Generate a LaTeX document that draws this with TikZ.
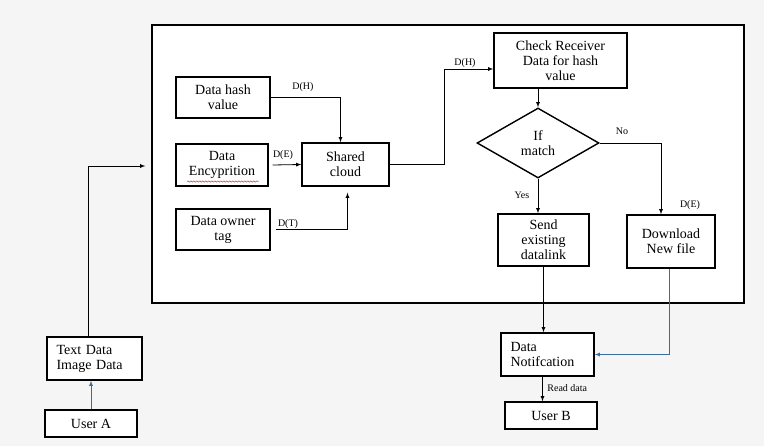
\documentclass[tikz,border=0pt]{standalone}
\usepackage{fontspec}
\setmainfont{Liberation Serif}
\usepackage{xcolor}
\usetikzlibrary{arrows,shapes.geometric,decorations.pathmorphing,positioning}

\definecolor{linkblue}{HTML}{3A6E9A}

\begin{document}
\begin{tikzpicture}[-,
    >=latex,
    x=1pt, y=-1pt,
    line width=0.8pt,
    font=\fontsize{14}{15}\selectfont]
  \tikzstyle{box}=[draw, line width=1.4pt, align=center, fill=white, inner sep=2pt]
  \tikzstyle{lbl}=[font=\fontsize{10}{11}\selectfont, inner sep=1pt]

  \fill[black!4] (0,0) rectangle (764,446);
  \useasboundingbox (0,0) rectangle (764,446);

  \node (frame) [draw, line width=1.4pt, fill=white, minimum width=592pt, minimum height=278pt] at (448,164) {};

  \node (hash)  [box, minimum width=94pt, minimum height=41pt] at (223,97.5)  {Data hash\\value};
  \node (enc)   [box, minimum width=92pt, minimum height=42pt] at (222,165)   {Data\\Encyprition};
  \node (owner) [box, minimum width=94pt, minimum height=41pt] at (223,229.5) {Data owner\\tag};
  \node (cloud) [box, minimum width=87pt, minimum height=43pt] at (345.5,164.5) {Shared\\cloud};
  \node (check) [box, minimum width=133pt, minimum height=55pt] at (560.5,60.5) {Check Receiver\\Data for hash\\value};
  \node (match) [draw, diamond, line width=1.4pt, fill=white, aspect=1.74, inner sep=0pt,
                 minimum width=122pt, minimum height=70pt, align=center] at (538,143) {If\\match};
  \node (send)  [box, minimum width=91pt, minimum height=52pt] at (543.5,240) {Send\\existing\\datalink};
  \node (down)  [box, minimum width=88pt, minimum height=53pt] at (671,241.5) {Download\\New file};
  \node (notif) [box, minimum width=93pt, minimum height=43pt, align=left, text width=74pt] at (547.5,354.5) {Data\\Notifcation};
  \node (userb) [box, minimum width=92pt, minimum height=27pt] at (551,415.5) {User B};
  \node (txt)   [box, minimum width=95pt, minimum height=43pt, align=left, text width=76pt] at (94.5,358.5) {Text Data\\Image Data};
  \node (usera) [box, minimum width=92pt, minimum height=27pt] at (91,423.5) {User A};

  % spell-check underline
  \draw[red!80!black, line width=0.4pt, decorate, decoration={snake, amplitude=0.7pt, segment length=3pt}]
    (187,181.5) -- (259,181.5);

  % inputs to the cloud
  \draw[->] (hash.east) -| ([xshift=-5pt]cloud.north);
  \draw[->] ([xshift=4pt]enc.east) -- (cloud.west);
  \draw[->] ([xshift=5pt]owner.east) -| ([xshift=2pt,yshift=-6pt]cloud.south);
  \node [lbl] at (303,87)  {D(H)};
  \node [lbl] at (283,155) {D(E)};
  \node [lbl] at (288,224) {D(T)};

  % cloud to receiver side
  \draw[->] (cloud.east) -- ++(55,0) |- ([yshift=-8.5pt]check.west);
  \node [lbl] at (465,63) {D(H)};
  \draw[->] (match.north |- check.south) -- (match.north);
  \draw[->] (match.south) -- (match.south |- send.north);
  \draw[->] (match.east) -| ([xshift=-10pt]down.north);
  \node [lbl] at (522,195) {Yes};
  \node [lbl] at (622,131) {No};
  \node [lbl] at (690,205) {D(E)};

  % notification
  \draw[->] (send.south) -- (send.south |- notif.north);
  \draw[->, linkblue] ([xshift=-2pt]down.south) |- (notif.east);
  \draw[->] ([xshift=-5pt]notif.south) -- ([xshift=-5pt]notif.south |- userb.north);
  \node [lbl, anchor=west] at (546,388) {Read data};

  % user A side
  \draw[->, linkblue] (usera.north) -- (usera.north |- txt.south);
  \draw[->, shorten >=6pt] ([xshift=-6pt]txt.north) |- ([yshift=-2pt]frame.west);
\end{tikzpicture}
\end{document}
